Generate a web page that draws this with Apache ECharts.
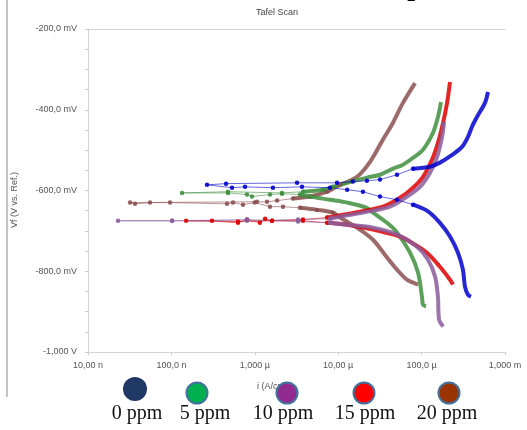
<!DOCTYPE html>
<html>
<head>
<meta charset="utf-8">
<script src="https://cdn.jsdelivr.net/npm/echarts@6/dist/echarts.min.js"></script>
<style>
  html, body { margin: 0; padding: 0; background: #ffffff; }
  #chart { width: 527px; height: 430px; }
</style>
</head>
<body>
<div id="chart"></div>
<script>
// sample names and tick labels
const ppmLabels = ['0 ppm', '5 ppm', '10 ppm', '15 ppm', '20 ppm'];
const xTickLabels = ['10,00 n', '100,0 n', '1,000 µ', '10,00 µ', '100,0 µ', '1,000 m'];
const yTickLabels = ['-1,000 V', '-800,0 mV', '-600,0 mV', '-400,0 mV', '-200,0 mV'];

// points are [current (A), potential (mV)]
// 0 ppm
const cathodic0 = [[3.91e-4, -863], [3.60e-4, -858], [3.31e-4, -838], [3.13e-4, -796], [2.73e-4, -754], [2.19e-4, -714], [1.66e-4, -680], [1.16e-4, -650], [7.89e-5, -635]];
const ecorr0 = [[7.89e-5, -635], [5.07e-5, -623], [3.17e-5, -615], [1.98e-5, -603], [1.28e-5, -598], [7.98e-6, -593], [3.68e-6, -591], [1.65e-6, -593], [7.63e-7, -591], [5.33e-7, -593], [2.67e-7, -586], [4.52e-7, -583], [3.21e-6, -581], [9.68e-6, -581], [1.50e-5, -578], [2.21e-5, -576], [3.17e-5, -573], [5.07e-5, -561], [7.89e-5, -546]];
const anodic0 = [[7.89e-5, -546], [1.26e-4, -541], [1.66e-4, -531], [2.32e-4, -512], [3.05e-4, -492], [3.60e-4, -467], [4.02e-4, -442], [4.61e-4, -418], [5.75e-4, -383], [6.25e-4, -356]];
// 5 ppm
const cathodic1 = [[1.13e-4, -887], [1.04e-4, -883], [1.01e-4, -863], [9.06e-5, -803], [7.26e-5, -754], [5.07e-5, -704], [3.85e-5, -680], [2.61e-5, -655], [2.21e-5, -643], [1.28e-5, -630], [7.98e-6, -623], [4.59e-6, -615], [3.48e-6, -610]];
const ecorr1 = [[4.59e-6, -615], [3.48e-6, -610], [2.12e-6, -608], [1.52e-6, -610], [9.25e-7, -615], [8.06e-7, -610], [4.77e-7, -606], [1.34e-7, -606], [4.77e-7, -603], [2.12e-6, -606], [3.78e-6, -603], [6.57e-6, -598], [8.67e-6, -591]];
const anodic1 = [[3.78e-6, -603], [6.57e-6, -598], [8.67e-6, -591], [1.28e-5, -581], [2.21e-5, -568], [3.17e-5, -561], [4.54e-5, -546], [5.98e-5, -536], [7.89e-5, -519], [1.04e-4, -499], [1.37e-4, -457], [1.57e-4, -418], [1.71e-4, -381]];
// 10 ppm
const cathodic2 = [[1.81e-4, -937], [1.62e-4, -920], [1.57e-4, -863], [1.45e-4, -813], [1.19e-4, -771], [8.81e-5, -739], [5.07e-5, -709], [2.61e-5, -692], [1.28e-5, -685], [7.98e-6, -680]];
const ecorr2 = [[7.98e-6, -680], [3.30e-6, -677], [8.06e-7, -672], [1.02e-7, -675], [2.29e-8, -675], [1.02e-7, -675], [8.06e-7, -675], [3.30e-6, -672], [7.98e-6, -670]];
const anodic2 = [[7.98e-6, -670], [1.05e-5, -665], [2.21e-5, -653], [4.18e-5, -640], [6.68e-5, -615], [9.57e-5, -591], [1.26e-4, -556], [1.53e-4, -517], [1.76e-4, -467], [1.86e-4, -430]];
// 15 ppm
const cathodic3 = [[2.38e-4, -833], [2.19e-4, -821], [1.66e-4, -789], [1.16e-4, -754], [6.68e-5, -722], [5.51e-5, -714], [2.61e-5, -697], [1.28e-5, -685], [7.34e-6, -680]];
const ecorr3 = [[7.34e-6, -680], [3.78e-6, -675], [1.61e-6, -675], [1.33e-6, -670], [1.15e-6, -680], [8.06e-7, -672], [6.29e-7, -680], [3.07e-7, -675], [1.50e-7, -675], [6.29e-7, -677], [1.61e-6, -675], [3.78e-6, -672], [7.34e-6, -667]];
const anodic3 = [[7.34e-6, -667], [1.14e-5, -660], [3.44e-5, -640], [5.51e-5, -618], [7.89e-5, -593], [1.04e-4, -566], [1.33e-4, -524], [1.57e-4, -482], [1.81e-4, -432], [2.02e-4, -383], [2.19e-4, -331]];
// 20 ppm
const cathodic4 = [[9.06e-5, -833], [6.68e-5, -821], [5.07e-5, -796], [3.85e-5, -766], [2.61e-5, -722], [1.68e-5, -692], [1.05e-5, -667], [8.67e-6, -655], [5.57e-6, -648], [3.48e-6, -643]];
const ecorr4 = [[8.67e-6, -655], [5.57e-6, -648], [3.48e-6, -643], [2.18e-6, -640], [1.52e-6, -640], [1.00e-6, -630], [7.22e-7, -635], [5.48e-7, -630], [4.64e-7, -633], [9.62e-8, -630], [5.54e-8, -630], [3.66e-8, -633], [3.19e-8, -630], [1.06e-6, -628], [1.40e-6, -628], [1.85e-6, -625], [2.87e-6, -620], [4.59e-6, -615], [7.34e-6, -603], [1.05e-5, -586]];
const anodic4 = [[2.87e-6, -620], [4.59e-6, -615], [7.34e-6, -603], [1.05e-5, -586], [1.68e-5, -566], [2.41e-5, -529], [3.44e-5, -474], [4.54e-5, -432], [5.98e-5, -383], [8.34e-5, -334]];

const lineColors = ['#0000cc', '#3f8f3f', '#8a5c9c', '#dd0000', '#8b5050'];
const legendFill = ['#1f3864', '#00b050', '#922b8f', '#ff0000', '#993300'];

let myChart = echarts.init(document.getElementById('chart'));

let curves = [
  [cathodic0, ecorr0, anodic0],
  [cathodic1, ecorr1, anodic1],
  [cathodic2, ecorr2, anodic2],
  [cathodic3, ecorr3, anodic3],
  [cathodic4, ecorr4, anodic4]
];
// draw brown first, blue last
let drawOrder = [4, 1, 3, 2, 0];
let series = [];
drawOrder.forEach(function (k) {
  let c = curves[k];
  series.push({
    name: ppmLabels[k], type: 'line', data: c[1], showSymbol: true, symbol: 'circle', symbolSize: 4.5,
    itemStyle: { color: lineColors[k], opacity: 0.9 },
    lineStyle: { width: 1, color: lineColors[k], opacity: 0.6 }
  });
  [c[0], c[2]].forEach(function (d) {
    series.push({
      name: ppmLabels[k], type: 'line', data: d, showSymbol: false, smooth: 0.3,
      lineStyle: { width: 4, color: lineColors[k], opacity: 0.85 }
    });
  });
});

// legend as circles with serif captions underneath
let legendX = [135, 197, 287, 364, 449];
let legendCapX = [137, 205, 283, 365, 447];
let graphics = [
  { type: 'line', shape: { x1: 7, y1: 0, x2: 7, y2: 397 }, style: { stroke: '#b0b0b0', lineWidth: 1.5 } },
  { type: 'text', x: 415, y: 2, style: { text: 'p', font: 'bold 28px "Liberation Serif"', fill: '#000', align: 'center', verticalAlign: 'bottom' } },
  { type: 'text', x: 277, y: 13, style: { text: 'Tafel Scan', font: '9px "Liberation Sans"', fill: '#444', align: 'center', verticalAlign: 'middle' } },
  { type: 'text', x: 15, y: 200, rotation: Math.PI / 2, style: { text: 'Vf (V vs. Ref.)', font: '9px "Liberation Sans"', fill: '#555', align: 'center', verticalAlign: 'middle' } },
  { type: 'text', x: 257, y: 387, style: { text: 'i (A/cm²)', font: '9px "Liberation Sans"', fill: '#555', align: 'left', verticalAlign: 'middle' } }
];
ppmLabels.forEach(function (name, k) {
  graphics.push({
    type: 'circle', z: 10,
    shape: { cx: legendX[k], cy: k === 0 ? 389 : 393, r: k === 0 ? 12 : 10.5 },
    style: { fill: legendFill[k], stroke: k === 0 ? legendFill[k] : '#41719c', lineWidth: k === 0 ? 0 : 2 }
  });
  graphics.push({
    type: 'text', z: 10, x: legendCapX[k], y: 414,
    style: { text: name, font: '20px "Liberation Serif"', fill: '#111', align: 'center', verticalAlign: 'middle' }
  });
});

let option = {
  animation: false,
  grid: { left: 88, right: 22, top: 29, bottom: 78, containLabel: false },
  xAxis: [{
    type: 'log',
    logBase: 10,
    min: 1e-8,
    max: 1e-3,
    axisLine: { show: true, lineStyle: { color: '#d4d4d4' } },
    axisTick: { show: true, length: 3, lineStyle: { color: '#cccccc' } },
    splitLine: { show: false },
    axisLabel: {
      fontSize: 9,
      color: '#555',
      margin: 9,
      formatter: function (v) {
        return xTickLabels[Math.round(Math.log10(v)) + 8];
      }
    }
  }, {
    type: 'log',
    position: 'top',
    min: 1e-8,
    max: 1e-3,
    axisLine: { show: true, lineStyle: { color: '#d4d4d4' } },
    axisTick: { show: false },
    axisLabel: { show: false },
    splitLine: { show: false }
  }],
  yAxis: {
    type: 'value',
    min: -1000,
    max: -200,
    interval: 200,
    axisLine: { show: true, lineStyle: { color: '#d4d4d4' } },
    axisTick: { show: true, length: 3, lineStyle: { color: '#cccccc' } },
    minorTick: { show: true, splitNumber: 4, length: 3, lineStyle: { color: '#cccccc' } },
    splitLine: { show: false },
    axisLabel: {
      fontSize: 9,
      color: '#555',
      margin: 11,
      formatter: function (v) {
        return yTickLabels[Math.round((v + 1000) / 200)];
      }
    }
  },
  series: series,
  graphic: graphics
};

myChart.setOption(option);
window.addEventListener('resize', function () {
  myChart.resize();
});
</script>
</body>
</html>
